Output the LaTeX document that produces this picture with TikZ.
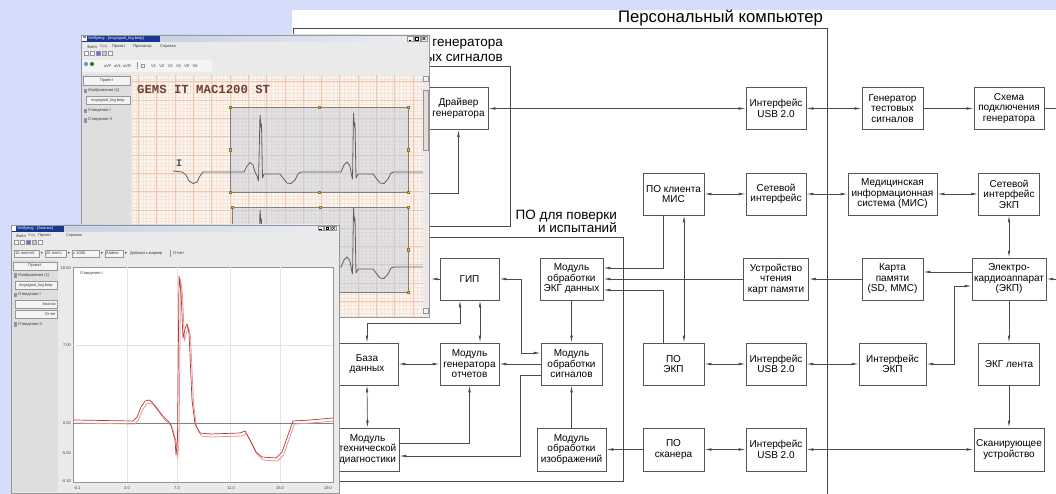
\documentclass[tikz,border=0pt]{standalone}
\usepackage{fontspec}
\setmainfont{Liberation Sans}
\newfontfamily\monofnt{Liberation Mono}
\newfontfamily\symfnt{DejaVu Sans}
\usetikzlibrary{arrows.meta,calc}
\definecolor{bgblue}{RGB}{212,222,250}
\definecolor{linec}{RGB}{75,75,75}
\definecolor{boxc}{RGB}{85,85,85}
\definecolor{wingray}{RGB}{234,234,234}
\definecolor{panelg}{RGB}{222,222,222}
\definecolor{winbord}{RGB}{150,150,150}
\definecolor{btnc}{RGB}{244,244,244}
\definecolor{titleblue}{RGB}{25,55,145}
\definecolor{titlemid}{RGB}{200,210,228}
\definecolor{titlelight}{RGB}{236,238,242}
\definecolor{paper}{RGB}{252,245,239}
\definecolor{minorg}{RGB}{245,228,216}
\definecolor{majorg}{RGB}{240,200,176}
\definecolor{selc}{RGB}{192,204,218}
\definecolor{handle}{RGB}{232,198,60}
\definecolor{ecgc}{RGB}{95,95,95}
\definecolor{gemsc}{RGB}{112,62,48}
\definecolor{reddark}{RGB}{185,55,55}
\definecolor{redlight}{RGB}{228,150,150}
\definecolor{tinyt}{RGB}{60,60,60}
\definecolor{gridg}{RGB}{228,228,228}
\tikzset{
  bx/.style={draw=boxc, line width=0.7pt, fill=white, inner sep=1pt, minimum height=42pt, align=center, font=\fontsize{10}{10.5}\selectfont},
  ln/.style={draw=linec, line width=0.7pt},
  ar/.style={ln, -{Latex[length=7pt,width=2.6pt]}},
  ab/.style={ln, {Latex[length=7pt,width=2.6pt]}-{Latex[length=7pt,width=2.6pt]}},
  tt/.style={font=\fontsize{4}{4.5}\selectfont, text=tinyt, inner sep=0pt},
  hdl/.style={fill=handle, draw=handle!60!black, line width=0.2pt},
  btn/.style={fill=btnc, draw=winbord, line width=0.3pt},
  ttl/.style={font=\fontsize{13.5}{15}\selectfont, inner sep=0pt, anchor=base east},
  icon/.style={fill=#1, draw=winbord, line width=0.2pt},
}
\newcommand\hdlat[2]{\filldraw[hdl] (#1-1.3,#2-1.3) rectangle (#1+1.3,#2+1.3);}
\newcommand\ecgtrace{plot coordinates {(173,171) (182,172) (186,175) (189,181) (193,183.5) (197,182) (200,176) (203,172) (244,172) (247,166) (250,162.5) (253,165) (255,172) (257,176) (258.5,181) (260,115) (261,128) (261.5,124) (262.5,178) (264,174) (280,174) (283,178) (287,183) (291,183.5) (295,180) (298,174) (301,172) (341,172) (344,165) (347,162) (350,166) (351.5,175) (352.5,179) (353.5,113) (354.5,127) (355,123) (356,178) (358,174) (373,174) (376,178) (380,183) (384,183.5) (388,179) (391,173) (394,172) (423,172)}}
\newcommand\redtrace{plot coordinates {(74,420) (133,421) (137,417) (141,407) (145,401) (149,400) (152,402) (156,407) (162,415) (168,421) (171,425) (173,433) (175,440) (176,455) (177.5,440) (179,276) (181,292) (183,338) (185,329) (187,324) (189,333) (192,400) (195,424) (200,433) (210,434) (240,433) (245,431) (250,440) (256,452) (262,457) (276,458) (282,452) (288,435) (293,421) (310,420) (333,418)}}
\begin{document}
\begin{tikzpicture}[x=1pt,y=-1pt]
\useasboundingbox (0,0) rectangle (1056,494);
\fill[bgblue] (0,0) rectangle (1056,494);
\fill[white] (292,10) rectangle (1056,494);

% ---------- titles and frames
\node[font=\fontsize{16.7}{17}\selectfont, inner sep=0pt, anchor=base east] (pctitle) at (823,23) {Персональный компьютер};
\node[ttl] (gst1) at (503,47) {ПО генератора};
\node[ttl] (gst2) at (503,62) {тестовых сигналов};
\node[ttl] (vt1) at (617,219) {ПО для поверки};
\node[ttl] (vt2) at (617,233) {и испытаний};
\draw[ln] (293,494) -- (293,28) -- (827,28) -- (827,494);
\draw[ln] (300,66) -- (510,66) -- (510,226) -- (300,226);
\draw[ln] (330,237) -- (623,237) -- (623,481) -- (330,481);

% ---------- boxes
\node[bx, minimum width=59pt] (drv) at (458.5,108.5) {Драйвер\\генератора};
\node[bx, minimum width=60pt] (usb1) at (776,108.5) {Интерфейс\\USB 2.0};
\node[bx, minimum width=61pt] (gen) at (892.5,108.5) {Генератор\\тестовых\\сигналов};
\node[bx, minimum width=70pt] (sch) at (1009,108.5) {Схема\\подключения\\генератора};

\node[bx, minimum width=61pt] (misc) at (673.5,194) {ПО клиента\\МИС};
\node[bx, minimum width=60pt] (net) at (776,194) {Сетевой\\интерфейс};
\node[bx, minimum width=89pt] (mis) at (892.5,194) {Медицинская\\информационная\\система (МИС)};
\node[bx, minimum width=61pt] (netekp) at (1009,194) {Сетевой\\интерфейс\\ЭКП};

\node[bx, minimum width=59pt] (gip) at (469.5,279) {ГИП};
\node[bx, minimum width=63pt] (moekg) at (571.5,279) {Модуль\\обработки\\ЭКГ данных};
\node[bx, minimum width=65pt] (reader) at (776,279) {Устройство\\чтения\\карт памяти};
\node[bx, minimum width=61pt] (card) at (892.5,279) {Карта\\памяти\\(SD, MMC)};
\node[bx, minimum width=74pt] (ekp) at (1009,279) {Электро-\\кардиоаппарат\\(ЭКП)};

\node[bx, minimum width=62pt] (db) at (367,364) {База\\данных};
\node[bx, minimum width=59pt] (mgo) at (469.5,364) {Модуль\\генератора\\отчетов};
\node[bx, minimum width=61pt] (mos) at (571.5,364) {Модуль\\обработки\\сигналов};
\node[bx, minimum width=61pt] (poekp) at (673.5,364) {ПО\\ЭКП};
\node[bx, minimum width=60pt] (usb2) at (776,364) {Интерфейс\\USB 2.0};
\node[bx, minimum width=67pt] (ifekp) at (892.5,364) {Интерфейс\\ЭКП};
\node[bx, minimum width=61pt] (tape) at (1009,364) {ЭКГ лента};

\node[bx, minimum width=63pt, minimum height=43pt] (mtd) at (367.5,449.5) {Модуль\\технической\\диагностики};
\node[bx, minimum width=69pt, minimum height=43pt] (moi) at (571.5,449.5) {Модуль\\обработки\\изображений};
\node[bx, minimum width=61pt, minimum height=43pt] (posc) at (673.5,449.5) {ПО\\сканера};
\node[bx, minimum width=60pt, minimum height=43pt] (usb3) at (776,449.5) {Интерфейс\\USB 2.0};
\node[bx, minimum width=70pt, minimum height=43pt] (scan) at (1009,449.5) {Сканирующее\\устройство};

% ---------- connectors
\coordinate (drvsrc) at (405,193);
\coordinate (gipout) at (430.5,279);
\draw[ab] (drv.east) -- (usb1.west);
\draw[ab] (usb1.east) -- (gen.west);
\draw[ar] (gen.east) -- (sch.west);
\draw[ar] (sch.east) -- ++(25,0) |- (ekp.east);
\draw[ar] (drvsrc) -| (drv.south);
\draw[ar] (gip.west) -- (gipout);
\draw[ab] ($(gip.south)+(-9.5,0)$) -- ++(0,23) -| (db.north);
\draw[ab] ($(gip.south)+(10.5,0)$) -- ($(mgo.north)+(10.5,0)$);
\draw[ab] (gip.east) -- ++(22,0) |- ($(mos.west)+(0,-11)$);
\draw[ar] ($(misc.south)+(-10.5,0)$) |- ($(moekg.east)+(0,-11)$);
\draw[ar] (reader.west) -- (moekg.east);
\draw[ar] ($(poekp.north)+(-10.5,0)$) |- ($(moekg.east)+(0,11)$);
\draw[ab] ($(misc.south)+(10.5,0)$) -- ($(poekp.north)+(10.5,0)$);
\draw[ab] (misc.east) -- (net.west);
\draw[ab] (net.east) -- (mis.west);
\draw[ab] (mis.east) -- (netekp.west);
\draw[ab] (netekp.south) -- (ekp.north);
\draw[ar] ($(ekp.west)+(0,-7)$) -- ($(card.east)+(0,-7)$);
\draw[ar] (card.west) -- (reader.east);
\draw[ab] (ifekp.east) -- ++(28,0) |- ($(ekp.west)+(0,7)$);
\draw[ab] (poekp.east) -- (usb2.west);
\draw[ab] (usb2.east) -- (ifekp.west);
\draw[ar] (ekp.south) -- (tape.north);
\draw[ar] (tape.south) -- (scan.north);
\draw[ab] (usb3.east) -- (scan.west);
\draw[ab] (posc.east) -- (usb3.west);
\draw[ar] (posc.west) -- (moi.east);
\draw[ar] (moi.north) -- (mos.south);
\draw[ar] (moekg.south) -- (mos.north);
\draw[ar] (mos.west) -- (mgo.east);
\draw[ab] (db.east) -- (mgo.west);
\draw[ab] (db.south) -- (mtd.north);
\draw[ar] ($(mtd.east)+(0,-6.5)$) -| (mgo.south);
\draw[ar] ($(mos.west)+(0,11)$) -- ++(-20,0) |- ($(mtd.east)+(0,6.5)$);

% ---------- window 1 (ECG image)
\fill[wingray] (81,35) rectangle (429,317);
\fill[titleblue] (81,35) rectangle (160,42);
\shade[left color=titlemid, right color=titlelight] (160,35) rectangle (429,42);
\fill[white] (82.3,36) rectangle (86.5,41);
\fill[titleblue!60] (82.8,36.5) rectangle (86,38.3);
\node[tt, text=white, anchor=west] (w1title) at (88,38.6) {Verifyecg - [ecgsignal\_big.bmp]};
\foreach \i in {0,1,2} {\filldraw[btn] (407+7*\i,36) rectangle ++(6,5);}
\draw[line width=0.4pt] (408.5,40) -- (411,40);
\draw[line width=0.3pt] (415.5,37.2) rectangle (418.5,39.8);
\draw[line width=0.4pt] (422.5,37) -- (425.5,40) (422.5,40) -- (425.5,37);
\node[tt, anchor=west] (w1m1) at (87,47) {Файл};
\node[tt, anchor=west, text=gray] (w1m2) at (100,47) {Вид};
\node[tt, anchor=west] (w1m3) at (112,47) {Проект};
\node[tt, anchor=west] (w1m4) at (133,47) {Просмотр};
\node[tt, anchor=west] (w1m5) at (160,47) {Справка};
\foreach \x/\c in {84/white,90/white,96/blue!60,102/gray!40,108/white} {\filldraw[icon=\c] (\x,51) rectangle ++(4.2,4.2);}
\fill[btnc] (82,60) rectangle (212,72);
\filldraw[icon=blue!50] (86,64) circle (2);
\filldraw[icon=green!50!black] (92,64) circle (2);
\node[tt, anchor=west] (w1b1) at (104,66) {aVF};
\node[tt, anchor=west] (w1b2) at (114,66) {aVL};
\node[tt, anchor=west] (w1b3) at (123,66) {aVR};
\draw[winbord, line width=0.3pt] (137,62.5) -- (137,69.5);
\draw[winbord, line width=0.3pt] (141,64) rectangle (144,67.5);
\node[tt, anchor=west] (w1b4) at (151,66) {V1\hspace{3.4pt}V2\hspace{3.4pt}V3\hspace{3.4pt}V4\hspace{3.4pt}V5\hspace{3.4pt}V6};
\fill[panelg] (82,74) rectangle (131,317);
\filldraw[btn] (83,76) rectangle (130,85);
\node[tt] (w1p1) at (106.5,80.5) {Проект};
\filldraw[icon=blue!50] (84,89) rectangle ++(2.5,3.5);
\node[tt, anchor=west] (w1p2) at (88,90.8) {Изображения (1)};
\filldraw[btn] (86,96.5) rectangle (130,104.5);
\node[tt] (w1p3) at (108,100.5) {ecgsignal\_big.bmp};
\filldraw[icon=blue!50] (84,108.7) rectangle ++(2.5,3.5);
\node[tt, anchor=west] (w1p4) at (88,110.5) {Отведение I};
\filldraw[icon=blue!50] (84,118.2) rectangle ++(2.5,3.5);
\node[tt, anchor=west] (w1p5) at (88,120) {Отведение II};
\begin{scope}
\clip (132,75) rectangle (423,317);
\fill[paper] (132,75) rectangle (423,317);
\foreach \i in {0,...,80} {\draw[minorg, line width=0.3pt] ({132+3.66*\i},75) -- ({132+3.66*\i},317);}
\foreach \i in {0,...,66} {\draw[minorg, line width=0.3pt] (132,{75+3.66*\i}) -- (423,{75+3.66*\i});}
\foreach \i in {0,...,16} {\draw[majorg, line width=0.5pt] ({138.4+18.3*\i},75) -- ({138.4+18.3*\i},317);}
\foreach \i in {0,...,13} {\draw[majorg, line width=0.5pt] (132,{81.7+18.3*\i}) -- (423,{81.7+18.3*\i});}
\node[anchor=west, font=\monofnt\bfseries\fontsize{12.3}{13}\selectfont, text=gemsc, inner sep=0pt] (gems) at (137,89) {GEMS IT MAC1200 ST};
\fill[selc, opacity=0.45] (230,107) rectangle (408,192);
\fill[selc, opacity=0.45] (232,207) rectangle (408,292);
\draw[gray, line width=0.4pt] (230,107) rectangle (408,192);
\draw[gray, line width=0.4pt] (232,207) rectangle (408,292);
\node[font=\monofnt\bfseries\fontsize{10}{10}\selectfont, text=ecgc!80!black, inner sep=0pt] (lead1) at (179,163) {I};
\draw[ecgc, line width=0.8pt, line join=round] \ecgtrace;
\draw[ecgc, line width=0.8pt, line join=round, shift={(0,95)}] \ecgtrace;
\foreach \x in {230,319,408} {\hdlat{\x}{107} \hdlat{\x}{192}}
\hdlat{230}{149.5} \hdlat{408}{149.5}
\foreach \x in {232,320,408} {\hdlat{\x}{207} \hdlat{\x}{292}}
\hdlat{232}{249.5} \hdlat{408}{249.5}
\end{scope}
\fill[wingray] (423,75) rectangle (429,317);
\filldraw[btn] (423.5,76) rectangle (428.5,81);
\filldraw[fill=panelg, draw=winbord, line width=0.3pt] (423.5,90) rectangle (428.5,150);
\filldraw[btn] (423.5,308) rectangle (428.5,313);
\draw[winbord, line width=0.5pt] (81,35) rectangle (429,317);

% ---------- window 2 (analysis)
\fill[wingray] (11,225) rectangle (339,493);
\fill[titleblue] (11,225) rectangle (64,231.5);
\shade[left color=titlemid, right color=titlelight] (64,225) rectangle (339,231.5);
\fill[white] (12,226) rectangle (15.5,230.5);
\node[tt, text=white, anchor=west] (w2title) at (17,228.3) {Verifyecg - [Анализ]};
\foreach \i in {0,1,2} {\filldraw[btn] (318+6.5*\i,226) rectangle ++(5.5,4.5);}
\draw[line width=0.4pt] (319.3,229.5) -- (321.8,229.5);
\draw[line width=0.3pt] (326,227) rectangle (328.5,229.5);
\draw[line width=0.4pt] (332.3,226.8) -- (335,229.7) (332.3,229.7) -- (335,226.8);
\node[tt, anchor=west] (w2m1) at (16,235.7) {Файл};
\node[tt, anchor=west, text=gray] (w2m2) at (28,235.7) {Вид};
\node[tt, anchor=west] (w2m3) at (38,235.7) {Проект};
\node[tt, anchor=west] (w2m4) at (66,235.7) {Справка};
\foreach \x/\c in {14/white,20/white,26/blue!60,32/gray!40,38/white} {\filldraw[icon=\c] (\x,240.5) rectangle ++(4,4);}
\filldraw[btn] (14,250) rectangle (39,257);
\node[tt, anchor=west] (w2d1) at (15,253.5) {10 mm/mV};
\node[tt, font=\symfnt\fontsize{4}{4.5}\selectfont] (w2a1) at (42,253.5) {▾};
\filldraw[btn] (45,250) rectangle (66,257);
\node[tt, anchor=west] (w2d2) at (46,253.5) {25 mm/s};
\node[tt, font=\symfnt\fontsize{4}{4.5}\selectfont] (w2a2) at (69,253.5) {▾};
\filldraw[btn] (72,250) rectangle (99,257);
\node[tt, anchor=west] (w2d3) at (73,253.5) {x 1000};
\node[tt, font=\symfnt\fontsize{4}{4.5}\selectfont] (w2a3) at (102,253.5) {▾};
\filldraw[btn] (105,250) rectangle (123,257);
\node[tt, anchor=west] (w2d4) at (106,253.5) {Andew};
\node[tt, font=\symfnt\fontsize{4}{4.5}\selectfont] (w2a4) at (126,253.5) {▾};
\node[tt, anchor=west] (w2d5) at (130,253.5) {Добавить маркер};
\draw[winbord, line width=0.3pt] (170,250) -- (170,257);
\node[tt, anchor=west] (w2d6) at (173,253.5) {Отчет};
\fill[panelg] (12,260) rectangle (58,492);
\filldraw[btn] (13,262) rectangle (57,270);
\node[tt] (w2p1) at (35,266) {Проект};
\filldraw[icon=blue!50] (14,273.5) rectangle ++(2.3,3.3);
\node[tt, anchor=west] (w2p2) at (18,275.3) {Изображения (1)};
\filldraw[btn] (15,281.5) rectangle (57,289.5);
\node[tt] (w2p3) at (36,285.5) {ecgsignal\_big.bmp};
\filldraw[icon=blue!50] (14,293) rectangle ++(2.3,3.3);
\node[tt, anchor=west] (w2p4) at (18,294.8) {Отведение I};
\filldraw[btn] (15,300) rectangle (57,308);
\node[tt, anchor=east] (w2p5) at (56,304) {Анализ};
\filldraw[btn] (15,310) rectangle (57,318);
\node[tt, anchor=east] (w2p6) at (56,314) {Отчет};
\filldraw[icon=blue!50] (14,322.5) rectangle ++(2.3,3.3);
\node[tt, anchor=west] (w2p7) at (18,324.3) {Отведение II};
\filldraw[fill=white, draw=winbord, line width=0.4pt] (73,267) rectangle (333,482);
\foreach \x in {127,177,230,280} {\draw[gridg, line width=0.4pt] (\x,267) -- (\x,482);}
\draw[gridg, line width=0.4pt] (73,345) -- (333,345);
\draw[gray, line width=0.5pt] (73,423) -- (333,423);
\node[tt, anchor=west] (w2lead) at (80,273.5) {Отведение I};
\begin{scope}
\clip (73,267) rectangle (333,482);
\draw[redlight, line width=0.8pt, line join=round, shift={(1.5,3)}] \redtrace;
\draw[reddark, line width=0.7pt, line join=round] \redtrace;
\end{scope}
\node[tt, anchor=east] (w2y1) at (71,268) {10.00};
\node[tt, anchor=east] (w2y2) at (71,345) {7.00};
\node[tt, anchor=east] (w2y3) at (71,423) {0.00};
\node[tt, anchor=east] (w2y4) at (71,453) {-5.00};
\node[tt, anchor=east] (w2y5) at (71,481) {-0.10};
\node[tt] (w2x1) at (77,488) {-0.1};
\node[tt] (w2x2) at (127,488) {3.0};
\node[tt] (w2x3) at (177,488) {7.0};
\node[tt] (w2x4) at (231,488) {11.0};
\node[tt] (w2x5) at (280,488) {15.0};
\node[tt] (w2x6) at (328,488) {19.0};
\draw[winbord, line width=0.5pt] (11,225) rectangle (339,493);
\end{tikzpicture}
\end{document}
